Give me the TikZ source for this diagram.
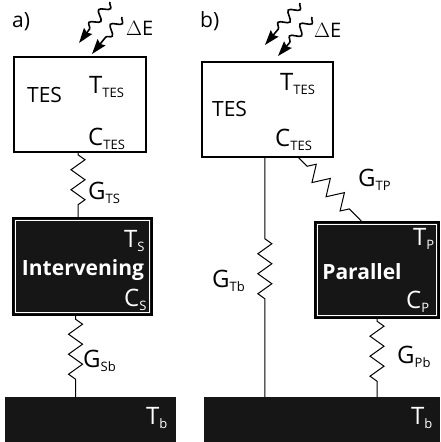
\documentclass[tikz,border=0pt]{standalone}
\usepackage{fontspec}
\setmainfont{Open Sans}
\usetikzlibrary{arrows.meta,positioning,calc,decorations.pathmorphing}
\definecolor{darkfill}{RGB}{22,22,22}

% symbol with a lowered small subscript
\newcommand{\symsub}[2]{{\fontsize{24}{26}\selectfont #1}\raisebox{-4pt}{\fontsize{13}{15}\selectfont #2}}

\begin{document}
\begin{tikzpicture}[x=1pt,y=-1pt,
    whitebox/.style={draw=black,line width=1.5pt,fill=white,inner sep=0pt},
    darkbox/.style={inner sep=0pt},
    darkbody/.style={draw=black,line width=1.5pt,fill=darkfill},
    frame/.style={draw=white,line width=0.8pt},
    bathbox/.style={fill=darkfill,inner sep=0pt},
    spring/.style 2 args={line width=1pt,decorate,decoration={zigzag,segment length=20pt,amplitude=7pt,pre length=#1,post length=#2}},
    photon/.style={line width=1.6pt,decorate,decoration={snake,segment length=16pt,amplitude=4.5pt,post length=17pt},
      -{Stealth[length=15pt,width=10pt,inset=2pt]}},
    lbl/.style={anchor=base west,inner sep=0pt,font=\fontsize{21}{24}\selectfont},
    wlbl/.style={lbl,text=white}]
  \useasboundingbox (0,0) rectangle (440,442);

  % Boxes
  \node[whitebox,minimum width=132pt,minimum height=95pt] (tesA) at (80,104.5) {};
  \node[darkbox,minimum width=139pt,minimum height=97pt] (intA) at (82.5,266.5) {};
  \node[bathbox,minimum width=171pt,minimum height=50pt] (bathA) at (90,422) {};
  \node[whitebox,minimum width=131pt,minimum height=95pt] (tesB) at (267.5,109.5) {};
  \node[darkbox,minimum width=124pt,minimum height=96pt] (parB) at (377,270) {};
  \node[bathbox,minimum width=236pt,minimum height=50pt] (bathB) at (322,422) {};
  % dark bodies with their white inner frames
  \foreach \b in {intA,parB} {
    \filldraw[darkbody] (\b.north west) rectangle (\b.south east);
    \draw[frame] ($(\b.north west)+(2.5,2.5)$) rectangle ($(\b.south east)+(-2.5,-2.5)$);
  }

  % Panel labels
  \node[lbl] (panA) at (12,27) {a)};
  \node[lbl] (panB) at (200,27) {b)};

  % Absorbed energy
  \coordinate (phA1) at (110,2);   \coordinate (hitA1) at (79,43);
  \coordinate (phA2) at (122,17);  \coordinate (hitA2) at (92,54);
  \coordinate (phB1) at (300,3);   \coordinate (hitB1) at (265,45);
  \coordinate (phB2) at (312,17);  \coordinate (hitB2) at (278,56);
  \foreach \s/\e in {phA1/hitA1,phA2/hitA2,phB1/hitB1,phB2/hitB2}
    \draw[photon] (\s) -- (\e);
  \node[lbl,font=\fontsize{20}{22}\selectfont] (dEA) at (126,35) {$\Delta$E};
  \node[lbl,font=\fontsize{20}{22}\selectfont] (dEB) at (314,37) {$\Delta$E};

  % TES labels
  \node[lbl] (nameA) at (27,102) {TES};
  \node[lbl] (TteA) at (89,93) {\symsub{T}{TES}};
  \node[lbl] (CteA) at (88,145) {\symsub{C}{TES}};
  \node[lbl] (nameB) at (212,116) {TES};
  \node[lbl] (TteB) at (280,90) {\symsub{T}{TES}};
  \node[lbl] (CteB) at (275,146) {\symsub{C}{TES}};

  % Intervening and parallel bodies
  \node[wlbl,anchor=center,font=\fontsize{21}{22}\bfseries] (intname) at (83,270) {Intervening};
  \node[wlbl] (TsA) at (124,247) {\symsub{T}{S}};
  \node[wlbl] (CsA) at (124,306) {\symsub{C}{S}};
  \node[wlbl,anchor=center,font=\fontsize{21}{22}\bfseries] (parname) at (362,272) {Parallel};
  \node[wlbl] (TpB) at (413,245) {\symsub{T}{P}};
  \node[wlbl] (CpB) at (406,308) {\symsub{C}{P}};
  \node[wlbl] (TbA) at (146,424) {\symsub{T}{b}};
  \node[wlbl] (TbB) at (411,424) {\symsub{T}{b}};

  % Thermal links
  \coordinate (sA) at ($(intA.south west)!0.45!(intA.south east)$);
  \draw[spring={2pt}{8pt}] (tesA.south -| 78,0) -- (intA.north -| 78,0);
  \draw[spring={4pt}{14pt}] (sA) -- (sA |- bathA.north);
  \coordinate (tbB) at ($(tesB.south west)!0.48!(tesB.south east)$);
  \draw[spring={81pt}{96pt}] (tbB) -- (tbB |- bathB.north);
  \coordinate (tpB) at ($(tesB.south west)!0.735!(tesB.south east)$);
  \coordinate (tpP) at ($(parB.north west)!0.38!(parB.north east)$);
  \draw[spring={12pt}{18pt},decoration={amplitude=8pt}] (tpB) -- (tpP);
  \draw[spring={3pt}{12pt}] (parB.south) -- (parB.south |- bathB.north);

  % Conductance labels
  \node[lbl] (GtsA) at (88,199) {\symsub{G}{TS}};
  \node[lbl] (GsbA) at (83,367) {\symsub{G}{Sb}};
  \node[lbl] (GtpB) at (358,186) {\symsub{G}{TP}};
  \node[lbl] (GtbB) at (212,287) {\symsub{G}{Tb}};
  \node[lbl] (GpbB) at (397,363) {\symsub{G}{Pb}};
\end{tikzpicture}
\end{document}
